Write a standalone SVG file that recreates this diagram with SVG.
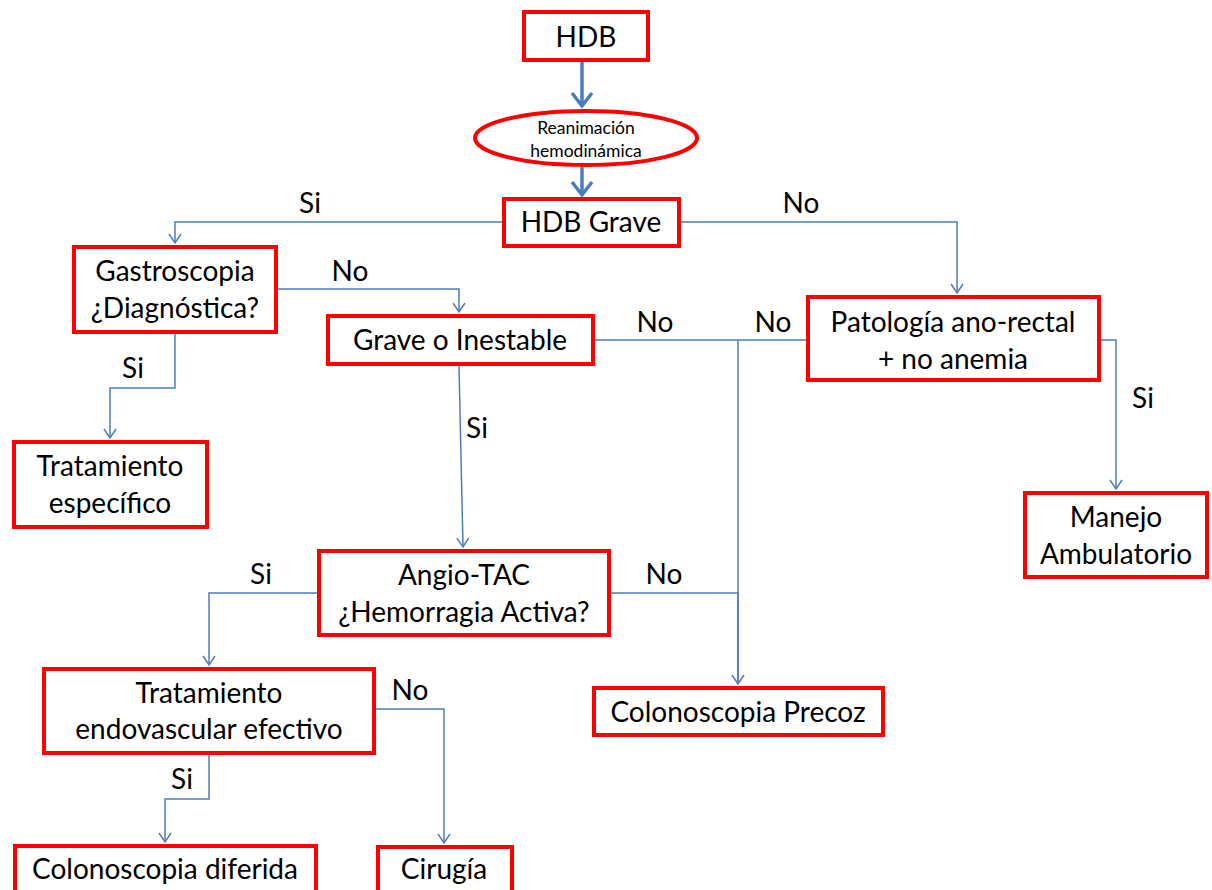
<svg xmlns="http://www.w3.org/2000/svg" width="1212" height="890" viewBox="0 0 1212 890">
<style>
.box{fill:#fff;stroke:#f00;stroke-width:4}
.c{fill:none;stroke:#4A7EBB;stroke-width:1.5}
.ck{fill:none;stroke:#4A7EBB;stroke-width:3.5}
.t{font-family:Lato,"Liberation Sans",sans-serif;font-size:28px;fill:#000;text-anchor:middle}
.s{font-size:17.5px}
</style>
<defs>
<marker id="a" markerUnits="userSpaceOnUse" markerWidth="16" markerHeight="16" refX="12" refY="8" orient="auto" viewBox="0 0 16 16">
<path d="M3,2 L12,8 L3,14" fill="none" stroke="#4A7EBB" stroke-width="1.5"/>
</marker>
<marker id="ak" markerUnits="userSpaceOnUse" markerWidth="24" markerHeight="24" refX="18" refY="12" orient="auto" viewBox="0 0 24 24">
<path d="M5,2 L18,12 L5,22" fill="none" stroke="#4A7EBB" stroke-width="3.5"/>
</marker>
</defs>
<rect width="1212" height="890" fill="#fff"/>
<g id="connectors">
<path class="ck" d="M582,62 V106" marker-end="url(#ak)"/>
<path class="ck" d="M582,167 V195" marker-end="url(#ak)"/>
<path class="c" d="M502,222 H175 V243" marker-end="url(#a)"/>
<path class="c" d="M681,222 H957 V293" marker-end="url(#a)"/>
<path class="c" d="M278,289 H459 V312" marker-end="url(#a)"/>
<path class="c" d="M175,334 V388 H110 V438" marker-end="url(#a)"/>
<path class="c" d="M459,366 L463,547" marker-end="url(#a)"/>
<path class="c" d="M595,340 H738 V684" marker-end="url(#a)"/>
<path class="c" d="M806,340 H738"/>
<path class="c" d="M1101,340 H1116 V489" marker-end="url(#a)"/>
<path class="c" d="M317,593 H209 V665" marker-end="url(#a)"/>
<path class="c" d="M611,593 H738 V684"/>
<path class="c" d="M209,755 V799 H165 V842" marker-end="url(#a)"/>
<path class="c" d="M376,709 H444 V843" marker-end="url(#a)"/>
<text class="t" x="310" y="213">Si</text>
<text class="t" x="801" y="213">No</text>
<text class="t" x="350" y="281">No</text>
<text class="t" x="133" y="378">Si</text>
<text class="t" x="477" y="438">Si</text>
<text class="t" x="655" y="332">No</text>
<text class="t" x="773" y="332">No</text>
<text class="t" x="1143" y="408">Si</text>
<text class="t" x="261" y="584">Si</text>
<text class="t" x="664" y="584">No</text>
<text class="t" x="182" y="789">Si</text>
<text class="t" x="410" y="700">No</text>
</g>
<g id="hdb">
<rect class="box" x="524" y="12" width="124" height="48"/>
<text class="t" x="586" y="47">HDB</text>
</g>
<g id="reanimacion">
<ellipse cx="586" cy="138" rx="111" ry="27" fill="#fff" stroke="#f00" stroke-width="4"/>
<text class="t s" x="586" y="134">Reanimación<tspan x="586" y="157">hemodinámica</tspan></text>
</g>
<g id="hdb-grave">
<rect class="box" x="504" y="199" width="175" height="47"/>
<text class="t" x="591" y="232">HDB Grave</text>
</g>
<g id="gastroscopia">
<rect class="box" x="74" y="247" width="202" height="85"/>
<text class="t" x="175" y="281">Gastroscopia<tspan x="175" y="318">¿Diagnóstica?</tspan></text>
</g>
<g id="grave-inestable">
<rect class="box" x="328" y="316" width="265" height="48"/>
<text class="t" x="460" y="350">Grave o Inestable</text>
</g>
<g id="patologia">
<rect class="box" x="808" y="297" width="291" height="83"/>
<text class="t" x="953" y="332">Patología ano-rectal<tspan x="953" y="369">+ no anemia</tspan></text>
</g>
<g id="tratamiento-especifico">
<rect class="box" x="14" y="442" width="193" height="85"/>
<text class="t" x="110" y="476">Tratamiento<tspan x="110" y="513">específico</tspan></text>
</g>
<g id="manejo">
<rect class="box" x="1025" y="493" width="182" height="84"/>
<text class="t" x="1116" y="527">Manejo<tspan x="1116" y="564">Ambulatorio</tspan></text>
</g>
<g id="angio-tac">
<rect class="box" x="319" y="551" width="290" height="84"/>
<text class="t" x="464" y="585">Angio-TAC<tspan x="464" y="622">¿Hemorragia Activa?</tspan></text>
</g>
<g id="colonoscopia-precoz">
<rect class="box" x="594" y="688" width="289" height="47"/>
<text class="t" x="738" y="722">Colonoscopia Precoz</text>
</g>
<g id="tratamiento-endovascular">
<rect class="box" x="44" y="669" width="330" height="84"/>
<text class="t" x="209" y="703">Tratamiento<tspan x="209" y="739">endovascular efectivo</tspan></text>
</g>
<g id="colonoscopia-diferida">
<rect class="box" x="15" y="846" width="301" height="50"/>
<text class="t" x="165" y="879">Colonoscopia diferida</text>
</g>
<g id="cirugia">
<rect class="box" x="378" y="847" width="134" height="50"/>
<text class="t" x="444" y="879">Cirugía</text>
</g>
</svg>
